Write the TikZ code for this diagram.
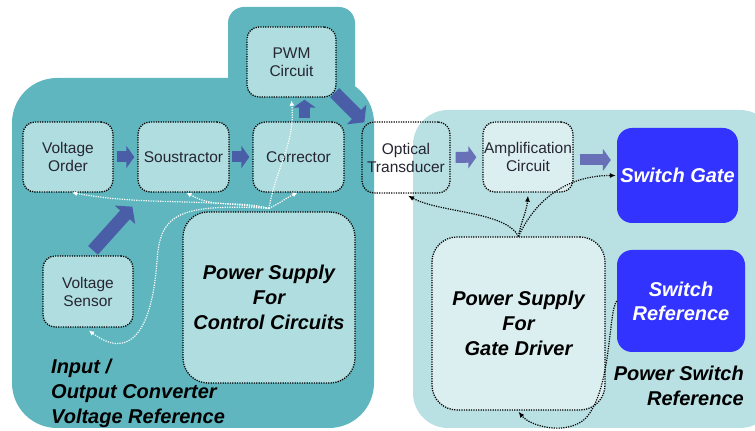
\documentclass[tikz,border=0pt]{standalone}
\usepackage{fontspec}
\setmainfont{Liberation Sans}
\usetikzlibrary{arrows.meta}
\definecolor{tealdk}{HTML}{60B6BE}
\definecolor{teallt}{HTML}{B9E0E3}
\definecolor{boxfil}{HTML}{B0DDE0}
\definecolor{boxlt}{HTML}{DCEFF0}
\definecolor{blu}{HTML}{3333FF}
\definecolor{arrdk}{HTML}{4A5EA8}
\definecolor{arrlt}{HTML}{6870B8}
\definecolor{txt}{HTML}{262633}
\tikzset{
  blk/.style={draw=black,dash pattern=on 1.2pt off 1.2pt,line width=1.3pt,rounded corners=12pt,
    minimum width=90pt,minimum height=70pt,align=center,inner sep=1pt,text=txt,
    font=\fontsize{15.5}{18}\selectfont},
  supply/.style={blk,rounded corners=25pt,text=black,font=\fontsize{20}{25}\selectfont\bfseries\itshape},
  swbox/.style={fill=blu,rounded corners=15pt,align=center,inner sep=1pt,text=white,
    font=\fontsize{20}{24}\selectfont\bfseries\itshape},
  lbl/.style={inner sep=0pt,text=black,font=\fontsize{20}{25}\selectfont\bfseries\itshape},
  fat/.style={arrdk,line width=11pt,-{Triangle[width=22pt,length=8pt]}},
  fatb/.style={arrdk,line width=13pt,-{Triangle[width=27pt,length=11pt]}},
  fatl/.style={arrlt,line width=11pt,-{Triangle[width=22pt,length=8pt]}},
  wdot/.style={white,line width=1.2pt,dash pattern=on 1.2pt off 1.2pt,-{Latex[length=5pt,width=5pt]}},
  bdot/.style={black,line width=1.2pt,dash pattern=on 1.2pt off 1.2pt,-{Latex[length=6pt,width=5pt]}}
}
\begin{document}
\begin{tikzpicture}[x=1pt,y=1pt]
\useasboundingbox (0,0) rectangle (755,431);
\clip (0,0) rectangle (755,431);
% regions
\fill[tealdk,rounded corners=45pt] (12,3) rectangle (374,353);
\fill[tealdk,rounded corners=16pt] (228,321) rectangle (355,424);
\fill[teallt,rounded corners=35pt] (413,3) rectangle (775,321);
% control side
\node[blk,fill=boxfil] (vo) at (68,274) {Voltage\\Order};
\node[blk,fill=boxfil,minimum width=91pt] (so) at (183.5,274) {Soustractor};
\node[blk,fill=boxfil,minimum width=91pt] (co) at (298.5,274) {Corrector};
\node[blk,fill=boxfil,minimum width=89pt] (pwm) at (291.5,369) {PWM\\Circuit};
\node[blk,fill=boxfil,minimum height=71pt] (vs) at (88,139.5) {Voltage\\Sensor};
\node[supply,fill=boxfil,minimum width=172pt,minimum height=171pt] (psc) at (269,133.5) {Power Supply\\For\\Control Circuits};
% switch side
\node[blk,minimum width=88pt,minimum height=71pt] (ot) at (406,273.5) {Optical\\Transducer};
\node[blk,fill=boxlt] (amp) at (528,274) {Amplification\\Circuit};
\node[swbox,minimum width=121pt,minimum height=95pt] (sg) at (677.5,255.5) {Switch Gate};
\node[swbox,minimum width=128pt,minimum height=102pt] (sr) at (681,130) {Switch\\Reference};
\node[supply,fill=boxlt,minimum width=173pt,minimum height=173pt] (psg) at (518.5,107.5) {Power Supply\\For\\Gate Driver};
% labels
\node[lbl,anchor=west,align=left] (inlbl) at (51,38) {Input /\\Output Converter\\Voltage Reference};
\node[lbl,anchor=east,align=right] (swlbl) at (744,45.5) {Power Switch\\Reference};
% block arrows
\draw[fat,shorten <=3pt,shorten >=3pt] (vo) -- (so);
\draw[fat,shorten <=2pt,shorten >=3pt] (so) -- (co);
\draw[fat,shorten <=3pt,shorten >=2pt] ([xshift=6pt]co.north) -- ([xshift=6pt]co.north |- pwm.south);
\draw[fatb] ([shift={(-2pt,5pt)}]pwm.south east) -- ([shift={(3pt,-1pt)}]ot.north west);
\draw[fatb] ([shift={(5pt,5pt)}]vs.north) -- ([shift={(-5pt,-14pt)}]so.south west);
\draw[fatl,shorten <=5pt,shorten >=6pt] (ot) -- (amp);
\draw[fatl,shorten <=6pt,shorten >=6pt] ([yshift=-3pt]amp.east) -- ([yshift=-3pt]amp.east -| sg.west);
% supply lines, control side
\coordinate (ps1) at ([yshift=3pt]psc.north);
\draw[wdot] (ps1) to[out=172,in=-10] ([xshift=4pt]vo.south);
\draw[wdot] (ps1) to[out=165,in=-30] ([xshift=3pt]so.south);
\draw[wdot] (ps1) to[out=25,in=205] ([xshift=-1pt]co.south);
\draw[wdot] (ps1) to[out=80,in=-85] ([yshift=-3pt]pwm.south);
\draw[wdot] (ps1) .. controls (175,228) and (160,215) .. (157,170)
  .. controls (152,100) and (130,70) .. ([xshift=1pt,yshift=-3pt]vs.south);
% supply lines, driver side
\coordinate (ps2) at (psg.north);
\draw[bdot] (ps2) .. controls (505,220) and (440,218) .. ([xshift=2pt,yshift=-2pt]ot.south);
\draw[bdot] (ps2) to[out=80,in=-95] ([yshift=-3pt]amp.south);
\draw[bdot] (ps2) to[out=65,in=180] ([xshift=-1pt]sg.west);
\draw[bdot] (sr.west) .. controls (608,120) and (612,40) .. (585,12)
  .. controls (565,-5) and (530,5) .. ([yshift=-1pt]psg.south);
\end{tikzpicture}
\end{document}
